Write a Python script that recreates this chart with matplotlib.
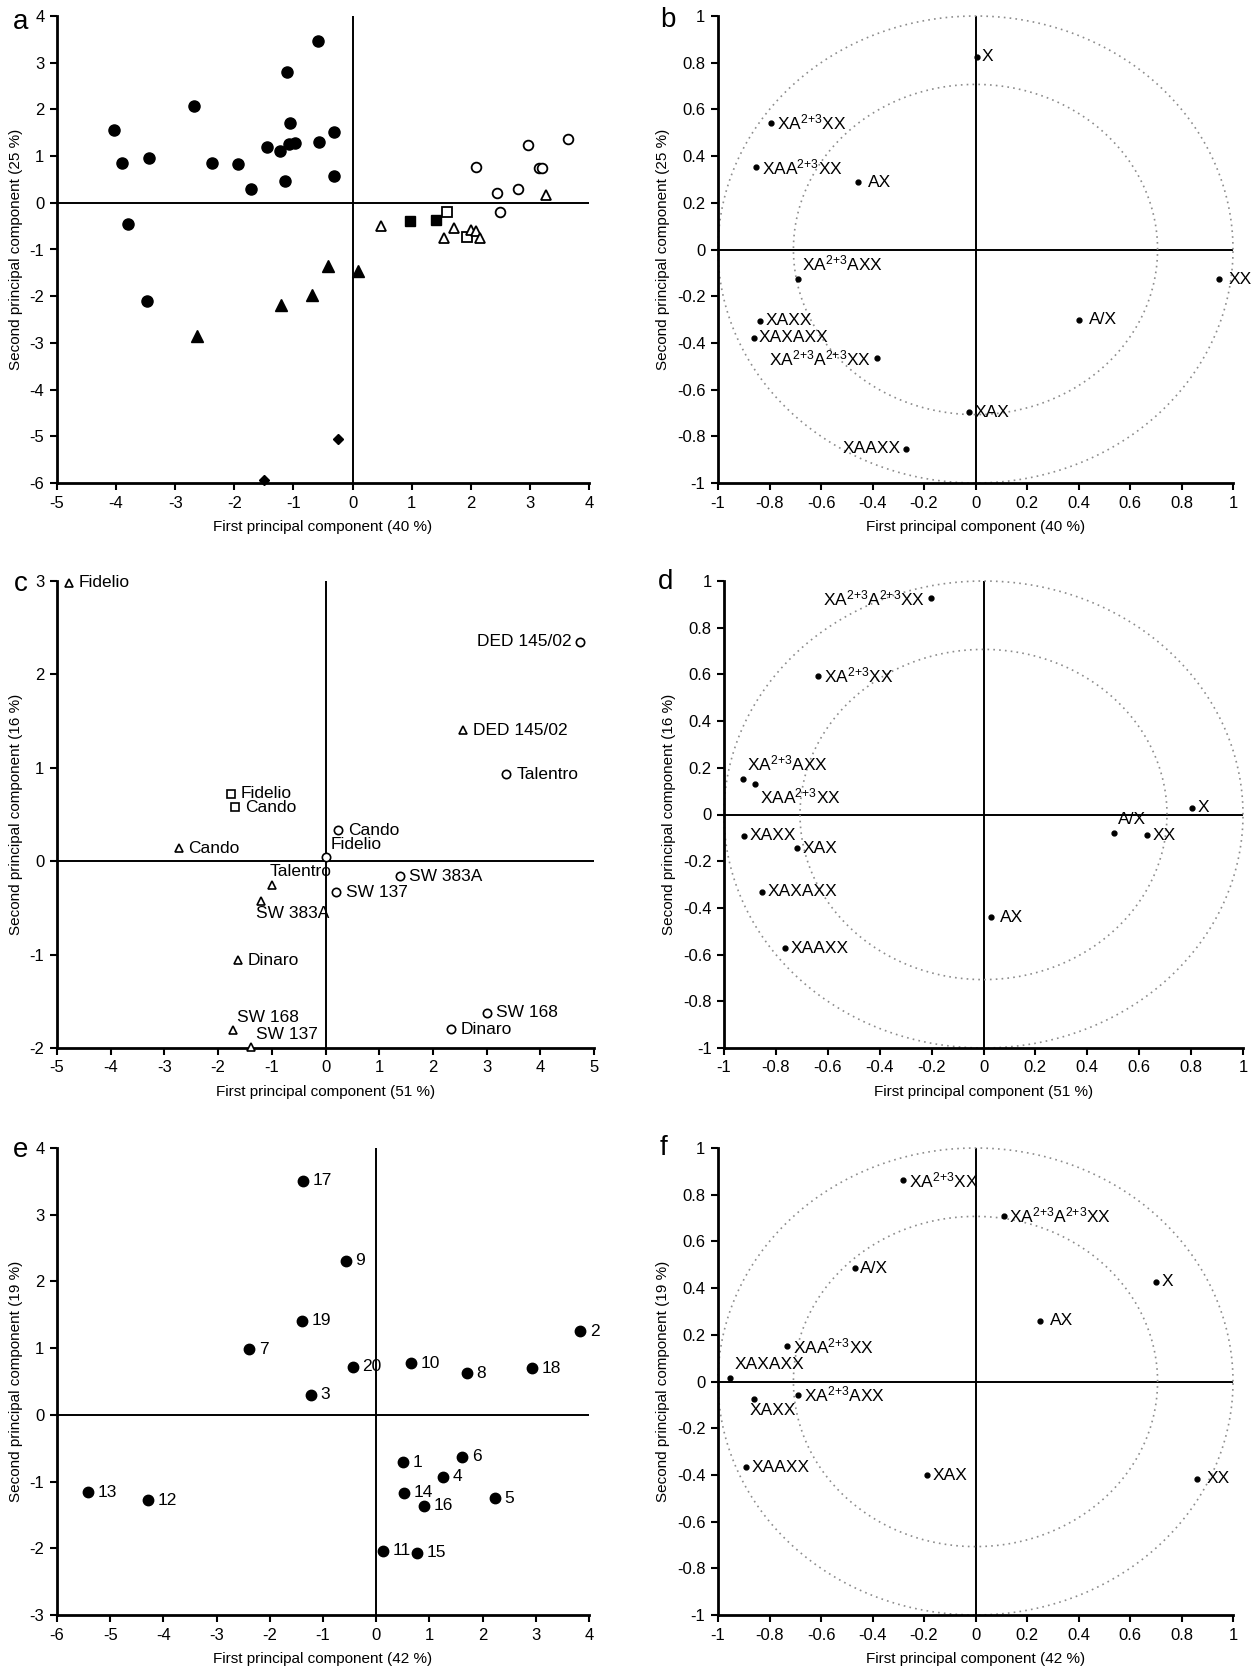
import numpy as np
import matplotlib
matplotlib.use("Agg")
import matplotlib.pyplot as plt

plt.rcParams["font.family"] = ["Liberation Sans", "DejaVu Sans"]
plt.rcParams["mathtext.default"] = "regular"
plt.rcParams["axes.unicode_minus"] = False

# ---- panel a: scores, grouped by marker type ----
a_fcirc_x = [-4.03, -3.90, -3.45, -3.80, -3.47, -2.69, -2.38, -1.94, -1.72, -1.45,
             -1.23, -1.15, -1.11, -1.06, -1.08, -0.98, -0.58, -0.56, -0.32, -0.31]
a_fcirc_y = [1.56, 0.86, 0.97, -0.46, -2.10, 2.07, 0.86, 0.83, 0.29, 1.20,
             1.11, 0.46, 2.80, 1.71, 1.25, 1.28, 3.47, 1.31, 1.52, 0.57]
a_ftri_x = [-2.63, -1.21, -0.68, -0.42, 0.10]
a_ftri_y = [-2.86, -2.19, -1.98, -1.35, -1.45]
a_diam_x = [-0.25, -1.49]
a_diam_y = [-5.05, -5.94]
a_fsq_x = [0.98, 1.41]
a_fsq_y = [-0.39, -0.37]
a_osq_x = [1.59, 1.93]
a_osq_y = [-0.20, -0.73]
a_otri_x = [0.48, 1.55, 1.71, 2.00, 2.08, 2.15, 3.27]
a_otri_y = [-0.50, -0.75, -0.53, -0.58, -0.61, -0.76, 0.16]
a_ocirc_x = [2.08, 2.44, 2.50, 2.80, 2.97, 3.15, 3.20, 3.65]
a_ocirc_y = [0.77, 0.20, -0.20, 0.29, 1.23, 0.75, 0.75, 1.36]

# superscript used in the oligosaccharide names
SUP = r"$^{2{+}3}$"

# ---- panel b: loadings ----
b_labels = ["X", "XA" + SUP + "XX", "XAA" + SUP + "XX", "AX", "XA" + SUP + "AXX", "XX", "A/X",
            "XAXX", "XAXAXX", "XA" + SUP + "A" + SUP + "XX", "XAX", "XAAXX"]
b_x = [0.004, -0.794, -0.851, -0.456, -0.689, 0.944, 0.402, -0.837, -0.862, -0.383, -0.026, -0.269]
b_y = [0.825, 0.543, 0.352, 0.287, -0.127, -0.128, -0.300, -0.306, -0.378, -0.465, -0.698, -0.853]

# ---- panel c: scores of cultivars ----
c_tri_labels = ["Fidelio", "DED 145/02", "Cando", "Talentro", "SW 383A", "Dinaro", "SW 168", "SW 137"]
c_tri_x = [-4.78, 2.56, -2.73, -0.99, -1.21, -1.63, -1.72, -1.38]
c_tri_y = [2.98, 1.40, 0.14, -0.26, -0.43, -1.06, -1.81, -1.99]
c_sq_labels = ["Fidelio", "Cando"]
c_sq_x = [-1.76, -1.68]
c_sq_y = [0.72, 0.58]
c_circ_labels = ["DED 145/02", "Talentro", "Cando", "Fidelio", "SW 383A", "SW 137", "SW 168", "Dinaro"]
c_circ_x = [4.74, 3.37, 0.24, 0.01, 1.38, 0.20, 3.00, 2.33]
c_circ_y = [2.35, 0.93, 0.33, 0.04, -0.16, -0.33, -1.62, -1.80]

# ---- panel d: loadings ----
d_labels = ["XA" + SUP + "A" + SUP + "XX", "XA" + SUP + "XX", "XA" + SUP + "AXX", "XAA" + SUP + "XX",
            "X", "A/X", "XX", "XAXX", "XAX", "XAXAXX", "AX", "XAAXX"]
d_x = [-0.204, -0.637, -0.926, -0.879, 0.802, 0.503, 0.631, -0.923, -0.719, -0.855, 0.027, -0.766]
d_y = [0.927, 0.595, 0.151, 0.132, 0.029, -0.078, -0.088, -0.092, -0.144, -0.331, -0.440, -0.572]

# ---- panel e: scores of samples ----
e_labels = ["17", "9", "19", "7", "20", "3", "2", "10", "8", "18",
            "1", "6", "4", "14", "16", "5", "13", "12", "11", "15"]
e_x = [-1.38, -0.57, -1.39, -2.39, -0.44, -1.23, 3.84, 0.65, 1.70, 2.92,
       0.51, 1.62, 1.25, 0.53, 0.90, 2.23, -5.41, -4.29, 0.12, 0.77]
e_y = [3.51, 2.31, 1.41, 0.98, 0.72, 0.30, 1.25, 0.77, 0.62, 0.70,
       -0.71, -0.63, -0.93, -1.17, -1.36, -1.25, -1.16, -1.28, -2.04, -2.07]

# ---- panel f: loadings ----
f_labels = ["XA" + SUP + "XX", "XA" + SUP + "A" + SUP + "XX", "A/X", "X", "AX", "XAA" + SUP + "XX",
            "XAXAXX", "XA" + SUP + "AXX", "XAXX", "XAAXX", "XAX", "XX"]
f_x = [-0.281, 0.109, -0.469, 0.701, 0.252, -0.732, -0.952, -0.689, -0.862, -0.892, -0.190, 0.859]
f_y = [0.861, 0.709, 0.485, 0.427, 0.261, 0.152, 0.015, -0.056, -0.076, -0.368, -0.402, -0.417]

# label placement (style only)
b_place = ["r", "r", "r", "r2", "ur", "r2", "r2", "r", "r", "l", "r", "l"]
c_tri_place = ["r2", "r2", "r2", "ul", "dl", "r2", "ur", "ur"]
c_sq_place = ["r2", "r2"]
c_circ_place = ["l2", "r2", "r2", "ur", "r2", "r2", "r2", "r2"]
d_place = ["l", "r", "ur", "dr", "r", "ur", "r", "r", "r", "r", "r2", "r"]
f_place = ["r", "r", "r", "r", "r2", "r", "ur", "r", "dl", "r", "r", "r2"]

W, H = 1254, 1675
FS_TICK = 12
FS_AX = 11
FS_LAB = 12.5


def rect(l, t, w, h):
    return [l / W, 1 - (t + h) / H, w / W, h / H]


def fmt(v):
    v = round(float(v), 2) + 0.0
    return "%g" % v


def setup(ax, xlim, ylim, xticks, yticks, xlabel, ylabel):
    ax.set_xlim(xlim)
    ax.set_ylim(ylim)
    ax.set_xticks(xticks)
    ax.set_yticks(yticks)
    ax.set_xticklabels([fmt(v) for v in xticks])
    ax.set_yticklabels([fmt(v) for v in yticks])
    for s in ["top", "right"]:
        ax.spines[s].set_visible(False)
    for s in ["left", "bottom"]:
        ax.spines[s].set_linewidth(2)
    ax.axhline(0, color="black", lw=1.4, zorder=1)
    ax.axvline(0, color="black", lw=1.4, zorder=1)
    ax.tick_params(direction="out", length=5, width=1.5, labelsize=FS_TICK, pad=4)
    ax.set_xlabel(xlabel, fontsize=FS_AX, labelpad=7)
    ax.set_ylabel(ylabel, fontsize=FS_AX, labelpad=5)


def circles(ax):
    t = np.linspace(0, 2 * np.pi, 500)
    for r in [1.0, np.sqrt(0.5)]:
        ax.plot(r * np.cos(t), r * np.sin(t), ls=(0, (1, 2.5)), color="#8c8c8c",
                lw=1.2, clip_on=False, zorder=1)


OFFS = {
    "r": ((4, 0), "left", "center"),
    "r2": ((7, 0), "left", "center"),
    "l": ((-4, 0), "right", "center"),
    "l2": ((-6, 0), "right", "center"),
    "ur": ((3, 4), "left", "bottom"),
    "ul": ((-2, 5), "left", "bottom"),
    "dr": ((3, -2), "left", "top"),
    "dl": ((-3, -3), "left", "top"),
}


def label(ax, xs, ys, texts, places, fs=FS_LAB):
    for x, y, s, p in zip(xs, ys, texts, places):
        off, ha, va = OFFS[p]
        ax.annotate(s, (x, y), xytext=off, textcoords="offset points",
                    ha=ha, va=va, fontsize=fs)


fig = plt.figure(figsize=(W / 100, H / 100), dpi=100)

axa = fig.add_axes(rect(57, 16, 532, 467))
axb = fig.add_axes(rect(718, 16, 515, 467))
axc = fig.add_axes(rect(57, 581, 537, 467))
axd = fig.add_axes(rect(724, 581, 519, 467))
axe = fig.add_axes(rect(57, 1148, 532, 467))
axf = fig.add_axes(rect(718, 1148, 515, 467))

load_ticks = np.round(np.arange(-1, 1.01, 0.2), 1)

# a
setup(axa, (-5, 4), (-6, 4), np.arange(-5, 5), np.arange(-6, 5),
      "First principal component (40 %)", "Second principal component (25 %)")
kw = dict(ls="none", clip_on=False, zorder=3, color="black")
axa.plot(a_fcirc_x, a_fcirc_y, marker="o", ms=8, **kw)
axa.plot(a_ftri_x, a_ftri_y, marker="^", ms=8, **kw)
axa.plot(a_diam_x, a_diam_y, marker="D", ms=5.5, **kw)
axa.plot(a_fsq_x, a_fsq_y, marker="s", ms=7, **kw)
axa.plot(a_osq_x, a_osq_y, marker="s", ms=7, mfc="white", mew=1.3, **kw)
axa.plot(a_otri_x, a_otri_y, marker="^", ms=7, mfc="white", mew=1.3, **kw)
axa.plot(a_ocirc_x, a_ocirc_y, marker="o", ms=7, mfc="white", mew=1.3, **kw)

# b
setup(axb, (-1, 1), (-1, 1), load_ticks, load_ticks,
      "First principal component (40 %)", "Second principal component (25 %)")
circles(axb)
axb.plot(b_x, b_y, marker="o", ms=3.5, **kw)
label(axb, b_x, b_y, b_labels, b_place)

# c
setup(axc, (-5, 5), (-2, 3), np.arange(-5, 6), np.arange(-2, 4),
      "First principal component (51 %)", "Second principal component (16 %)")
axc.plot(c_tri_x, c_tri_y, marker="^", ms=6, mfc="white", mew=1.2, **kw)
axc.plot(c_sq_x, c_sq_y, marker="s", ms=6, mfc="white", mew=1.2, **kw)
axc.plot(c_circ_x, c_circ_y, marker="o", ms=6, mfc="white", mew=1.2, **kw)
label(axc, c_tri_x, c_tri_y, c_tri_labels, c_tri_place)
label(axc, c_sq_x, c_sq_y, c_sq_labels, c_sq_place)
label(axc, c_circ_x, c_circ_y, c_circ_labels, c_circ_place)

# d
setup(axd, (-1, 1), (-1, 1), load_ticks, load_ticks,
      "First principal component (51 %)", "Second principal component (16 %)")
circles(axd)
axd.plot(d_x, d_y, marker="o", ms=3.5, **kw)
label(axd, d_x, d_y, d_labels, d_place)

# e
setup(axe, (-6, 4), (-3, 4), np.arange(-6, 5), np.arange(-3, 5),
      "First principal component (42 %)", "Second principal component (19 %)")
axe.plot(e_x, e_y, marker="o", ms=7.5, **kw)
label(axe, e_x, e_y, e_labels, ["r2"] * len(e_labels))

# f
setup(axf, (-1, 1), (-1, 1), load_ticks, load_ticks,
      "First principal component (42 %)", "Second principal component (19 %)")
circles(axf)
axf.plot(f_x, f_y, marker="o", ms=3.5, **kw)
label(axf, f_x, f_y, f_labels, f_place)

# panel letters
for s, x, y in [("a", 21, 22), ("b", 668, 20), ("c", 21, 584),
                ("d", 666, 582), ("e", 21, 1150), ("f", 664, 1148)]:
    fig.text(x / W, 1 - y / H, s, fontsize=20, ha="center", va="center")

fig.savefig("out.png", dpi=100)
